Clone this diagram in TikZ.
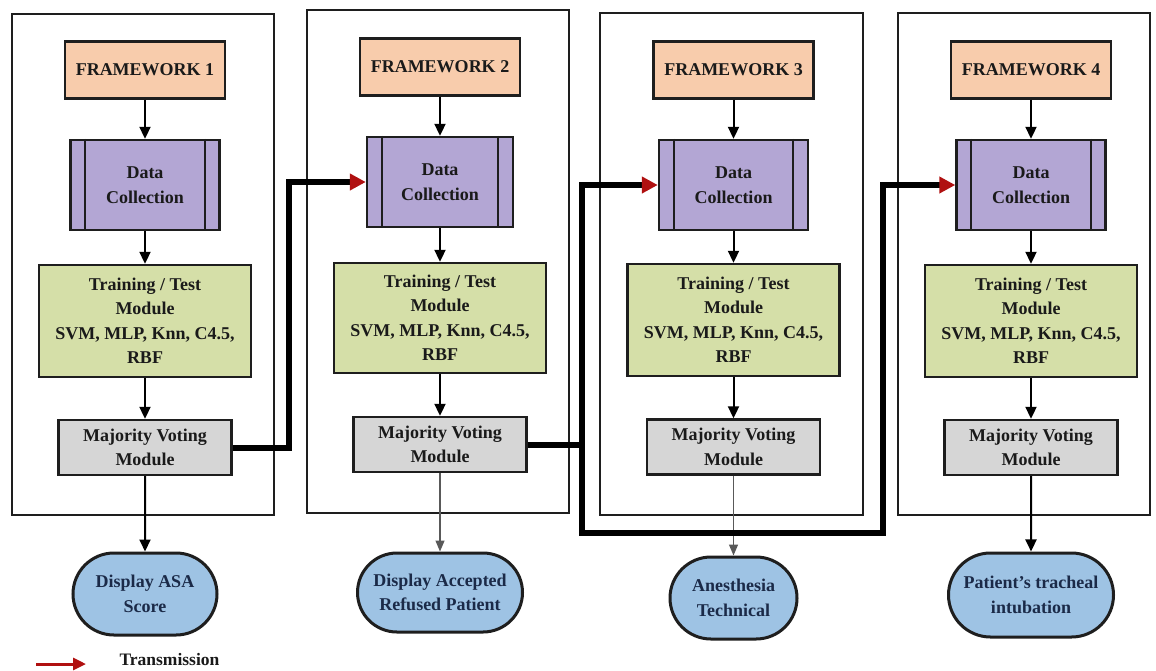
\documentclass[tikz,border=0pt]{standalone}
\usepackage{fontspec}
\setmainfont{Liberation Serif}
\usetikzlibrary{arrows.meta,shapes.misc}
\definecolor{fwfill}{HTML}{F8CCAC}
\definecolor{dcfill}{HTML}{B3A6D4}
\definecolor{trfill}{HTML}{D5DFA8}
\definecolor{mvfill}{HTML}{D6D6D6}
\definecolor{ovfill}{HTML}{9EC3E4}
\definecolor{boxline}{HTML}{1E1E1E}
\definecolor{txt}{HTML}{1A1A1A}
\definecolor{ovtxt}{HTML}{1B2A48}
\definecolor{tipred}{HTML}{B01010}
\begin{document}
\begin{tikzpicture}[x=1pt,y=-1pt,
  box/.style={draw=boxline,line width=2.4pt,inner sep=0pt,align=center,
    font=\bfseries\fontsize{18}{24.5}\selectfont,text=txt},
  fwbox/.style={box,fill=fwfill,minimum width=160pt,minimum height=57pt},
  dcbox/.style={box,fill=dcfill,minimum width=149pt,minimum height=90pt},
  trbox/.style={box,fill=trfill,minimum width=212pt,minimum height=112pt},
  mvbox/.style={box,fill=mvfill,minimum width=173pt,minimum height=55pt},
  ovbox/.style={box,rounded rectangle,fill=ovfill,text=ovtxt,line width=3pt},
  panel/.style={draw=boxline,line width=2pt},
  flow/.style={draw=black,line width=2pt,-{Triangle[length=12pt,width=11pt]}},
  thinflow/.style={draw=black!65,line width=1.2pt,-{Triangle[length=11pt,width=9pt]}},
  trans/.style={draw=black,line width=6pt,line join=miter},
  transtip/.style={trans,-{Triangle[color=tipred,length=16pt,width=16pt]}},
]
\useasboundingbox (0,0) rectangle (1156,670);
\fill[white] (0,0) rectangle (1156,670);

% panels
\draw[panel] (12,14) rectangle (274,515);
\draw[panel] (307,10) rectangle (569,513);
\draw[panel] (600,13) rectangle (863,515);
\draw[panel] (898,13) rectangle (1150,515);

% framework boxes
\node[fwbox] (fw1) at (145,70) {FRAMEWORK 1};
\node[fwbox] (fw2) at (440,67) {FRAMEWORK 2};
\node[fwbox] (fw3) at (733.5,70) {FRAMEWORK 3};
\node[fwbox] (fw4) at (1031,70) {FRAMEWORK 4};

% data collection
\node[dcbox] (dc1) at (145,185) {Data\\Collection};
\node[dcbox,minimum width=146pt] (dc2) at (440,182) {Data\\Collection};
\node[dcbox] (dc3) at (733.5,185) {Data\\Collection};
\node[dcbox] (dc4) at (1031,185) {Data\\Collection};
\foreach \n in {dc1,dc2,dc3,dc4}{
  \draw[boxline,line width=2pt] ([xshift=16pt]\n.north west) -- ([xshift=16pt]\n.south west);
  \draw[boxline,line width=2pt] ([xshift=-16pt]\n.north east) -- ([xshift=-16pt]\n.south east);
}

% training
\node[trbox] (tr1) at (145,321) {Training / Test\\Module\\SVM, MLP, Knn, C4.5,\\RBF};
\node[trbox,minimum height=110pt] (tr2) at (440,318) {Training / Test\\Module\\SVM, MLP, Knn, C4.5,\\RBF};
\node[trbox] (tr3) at (733.5,320) {Training / Test\\Module\\SVM, MLP, Knn, C4.5,\\RBF};
\node[trbox] (tr4) at (1031,321) {Training / Test\\Module\\SVM, MLP, Knn, C4.5,\\RBF};

% majority voting
\node[mvbox] (mv1) at (145,447.5) {Majority Voting\\Module};
\node[mvbox] (mv2) at (440,444.5) {Majority Voting\\Module};
\node[mvbox] (mv3) at (733.5,447) {Majority Voting\\Module};
\node[mvbox] (mv4) at (1031,447.5) {Majority Voting\\Module};

% outputs
\node[ovbox,minimum width=144pt,minimum height=82pt] (ov1) at (145,594) {Display ASA\\Score};
\node[ovbox,minimum width=165pt,minimum height=79pt] (ov2) at (440,592.5) {Display Accepted\\Refused Patient};
\node[ovbox,minimum width=127pt,minimum height=82pt] (ov3) at (733.5,598) {Anesthesia\\Technical};
\node[ovbox,minimum width=165pt,minimum height=84pt] (ov4) at (1031,595) {Patient's tracheal\\intubation};

% vertical flow
\foreach \i in {1,2,3,4}{
  \draw[flow] (fw\i) -- (dc\i);
  \draw[flow] (dc\i) -- (tr\i);
  \draw[flow] (tr\i) -- (mv\i);
}
\draw[flow] (mv1) -- (ov1);
\draw[thinflow] (mv2) -- (ov2);
\draw[thinflow] (mv3) -- (ov3);
\draw[flow] (mv4) -- (ov4);

% transmission connectors
\coordinate (c1) at (289,447.5);
\coordinate (c2) at (582,533);
\coordinate (c3) at (883,533);
\draw[transtip] (mv1.east) -- (c1) |- (dc2.west);
\draw[transtip] (mv2.east) -| (c2) -- (c3) |- (dc4.west);
\draw[transtip] (mv2.east -| c2) |- (dc3.west);

% legend
\coordinate (l1) at (36,664);
\coordinate (l2) at (86,664);
\draw[draw=tipred,line width=3pt,-{Triangle[color=tipred,length=13pt,width=12pt]}] (l1) -- (l2);
\node[font=\bfseries\fontsize{17.5}{20}\selectfont,text=txt,anchor=west] (leg) at (116,660) {Transmission};
\end{tikzpicture}
\end{document}
